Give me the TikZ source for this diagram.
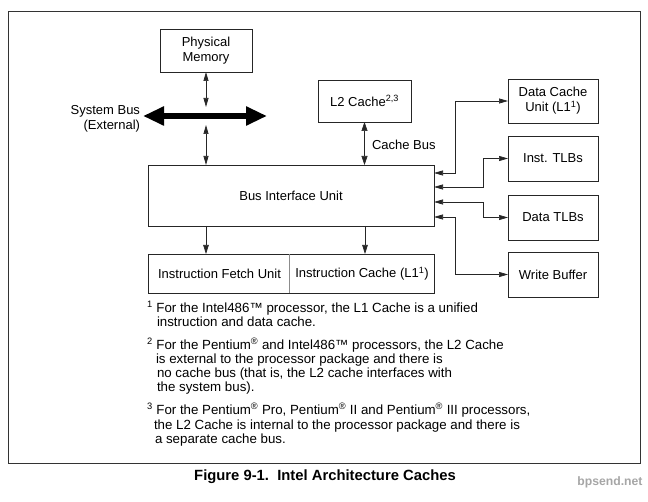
\documentclass[tikz,border=0pt]{standalone}
\usepackage{fontspec}
\setmainfont{Liberation Sans}
\usetikzlibrary{arrows.meta,calc}
\begin{document}
\begin{tikzpicture}[x=1pt,y=-1pt,
  box/.style={draw=black!85, line width=0.8pt, inner sep=0pt, outer sep=0pt, align=center, font=\fontsize{13}{15}\selectfont},
  lbl/.style={inner sep=0pt, outer sep=0pt, font=\fontsize{13}{15}\selectfont},
  fn/.style={inner sep=0pt, outer sep=0pt, anchor=base west, font=\fontsize{13.3}{14}\selectfont},
  conn/.style={draw=black!85, line width=0.7pt},
  onetip/.style={conn, -{Triangle[length=9pt,width=5.5pt]}},
  twotip/.style={conn, {Triangle[length=9pt,width=5pt]}-{Triangle[length=9pt,width=5pt]}},
  bigbus/.style={draw=black, line width=6pt, {Triangle[length=21pt,width=18pt]}-{Triangle[length=21pt,width=18pt]}}
]
\useasboundingbox (0,0) rectangle (648,502);
\draw[draw=black!80, line width=0.8pt] (8,11) rectangle (640,463);

% boxes
\node[box, minimum width=92pt, minimum height=43pt] (pm) at (206,50.5) {Physical\\Memory};
\node[box, minimum width=93pt, minimum height=42pt] (l2) at (364.5,101) {L2 Cache\textsuperscript{2,3}};
\node[box, minimum width=286pt, minimum height=61pt] (biu) at (291,195.5) {Bus Interface Unit};
\node[box, minimum width=286pt, minimum height=39pt] (instr) at (291,273.5) {};
\node[lbl] (ifu) at (219.5,273.5) {Instruction Fetch Unit};
\node[lbl] (ic) at (362,273.5) {Instruction Cache (L1\textsuperscript{1})};
\draw[draw=black!45, line width=0.5pt] (instr.north -| 289,0) -- (instr.south -| 289,0);

\node[box, minimum width=90pt, minimum height=44pt] (dcu) at (553,101) {Data Cache\\Unit (L1\textsuperscript{1})};
\node[box, minimum width=90pt, minimum height=45pt] (itlb) at (553,158.5) {Inst. TLBs};
\node[box, minimum width=90pt, minimum height=45pt] (dtlb) at (553,217.5) {Data TLBs};
\node[box, minimum width=90pt, minimum height=45pt] (wb) at (553,274.5) {Write Buffer};

% system bus
\coordinate (busL) at (143,116);
\coordinate (busR) at (267,116);
\coordinate (busTop) at (206,107);
\coordinate (busBot) at (206,125);
\draw[bigbus] (busL) -- (busR);
\node[lbl, anchor=east, align=right] (sbus) at (140,118.5) {System Bus\\(External)};
\draw[twotip] (pm.south -| busTop) -- (busTop);
\draw[twotip] (busBot) -- (biu.north -| busBot);

% cache bus
\draw[twotip, {Triangle[length=9pt,width=6pt]}-{Triangle[length=9pt,width=6pt]}] (l2.south) -- (l2.south |- biu.north);
\node[lbl, anchor=west] (cbus) at (372,145) {Cache Bus};

% down arrows
\coordinate (dA) at (206,0);
\coordinate (dB) at (365,0);
\draw[onetip] (biu.south -| dA) -- (instr.north -| dA);
\draw[onetip] (biu.south -| dB) -- (instr.north -| dB);

% right connectors
\draw[twotip] (biu.east |- 0,173) -- (455,173) |- (dcu.west);
\draw[twotip] (biu.east |- 0,187) -- (483,187) |- (itlb.west);
\draw[twotip] (biu.east |- 0,202) -- (483,202) |- (dtlb.west);
\draw[twotip] (biu.east |- 0,217) -- (455,217) |- (wb.west);

% footnotes
\node[fn] (f1a) at (147,313) {\textsuperscript{1} For the Intel486™ processor, the L1 Cache is a unified};
\node[fn] (f1b) at (157,327) {instruction and data cache.};
\node[fn] (f2a) at (147,350) {\textsuperscript{2} For the Pentium\textsuperscript{®} and Intel486™ processors, the L2 Cache};
\node[fn] (f2b) at (156,364) {is external to the processor package and there is};
\node[fn] (f2c) at (157,378) {no cache bus (that is, the L2 cache interfaces with};
\node[fn] (f2d) at (157,392) {the system bus).};
\node[fn] (f3a) at (147,415) {\textsuperscript{3} For the Pentium\textsuperscript{®} Pro, Pentium\textsuperscript{®} II and Pentium\textsuperscript{®} III processors,};
\node[fn] (f3b) at (154,429) {the L2 Cache is internal to the processor package and there is};
\node[fn] (f3c) at (155,443) {a separate cache bus.};

% caption
\node[inner sep=0pt, font=\fontsize{14.8}{16}\selectfont\bfseries] (cap) at (325,477) {Figure 9-1.\ \ Intel Architecture Caches};
\node[inner sep=0pt, text=black!35, font=\fontsize{12.2}{14}\selectfont\bfseries] (wm) at (610,482) {bpsend.net};
\end{tikzpicture}
\end{document}
